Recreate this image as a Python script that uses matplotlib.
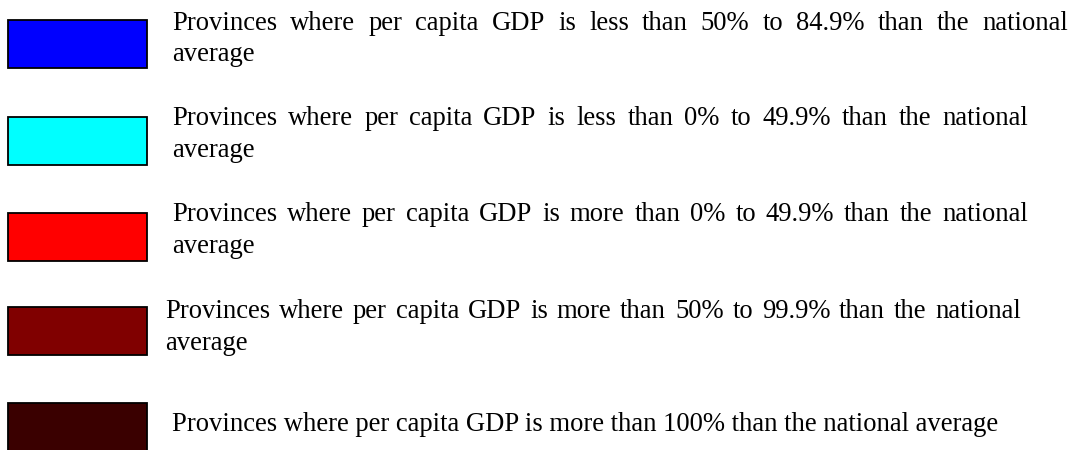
import matplotlib
matplotlib.use("Agg")
import matplotlib.pyplot as plt
from matplotlib.patches import Rectangle

# ---- data ----
colors = ["#0000FF", "#00FFFF", "#FF0000", "#800000", "#3A0000"]
line1 = [
    "Provinces where per capita GDP is less than 50% to 84.9% than the national",
    "Provinces where per capita GDP is less than 0% to 49.9% than the national",
    "Provinces where per capita GDP is more than 0% to 49.9% than the national",
    "Provinces where per capita GDP is more than 50% to 99.9% than the national",
    "Provinces where per capita GDP is more than 100% than the national average",
]
line2 = ["average", "average", "average", "average", ""]
justify_right = [1068, 1028, 1028, 1021, None]   # right edge of justified first lines (px)
text_x = [172, 172, 172, 165, 172]
box_top = [20, 117, 213, 307, 403]
base1 = [30, 125, 221, 318, 431]
base2 = [61, 157, 253, 350, None]

W, H = 1075, 450
fig = plt.figure(figsize=(W / 100, H / 100), dpi=100)
ax = fig.add_axes([0, 0, 1, 1])
ax.set_xlim(0, W)
ax.set_ylim(H, 0)
ax.axis("off")

FONT = "Liberation Serif"
renderer = fig.canvas.get_renderer()

# fit font size so the unjustified last line spans ~830 px
probe = ax.text(0, 0, line1[4], fontsize=10, family=FONT)
w10 = probe.get_window_extent(renderer).width
probe.remove()
fs = 10 * 830 / w10

for i in range(5):
    ax.add_patch(Rectangle((8, box_top[i]), 139, 48, facecolor=colors[i],
                           edgecolor="black", linewidth=1.3))
    x0 = text_x[i]
    if justify_right[i] is None:
        ax.text(x0, base1[i], line1[i], fontsize=fs, family=FONT, va="baseline", ha="left")
    else:
        words = line1[i].split(" ")
        arts = [ax.text(0, base1[i], w, fontsize=fs, family=FONT, va="baseline", ha="left")
                for w in words]
        widths = [a.get_window_extent(renderer).width for a in arts]
        gap = (justify_right[i] - x0 - sum(widths)) / (len(words) - 1)
        x = x0
        for a, wd in zip(arts, widths):
            a.set_x(x)
            x += wd + gap
    if line2[i]:
        ax.text(x0, base2[i], line2[i], fontsize=fs, family=FONT, va="baseline", ha="left")

fig.savefig("out.png", dpi=100, facecolor="white")
